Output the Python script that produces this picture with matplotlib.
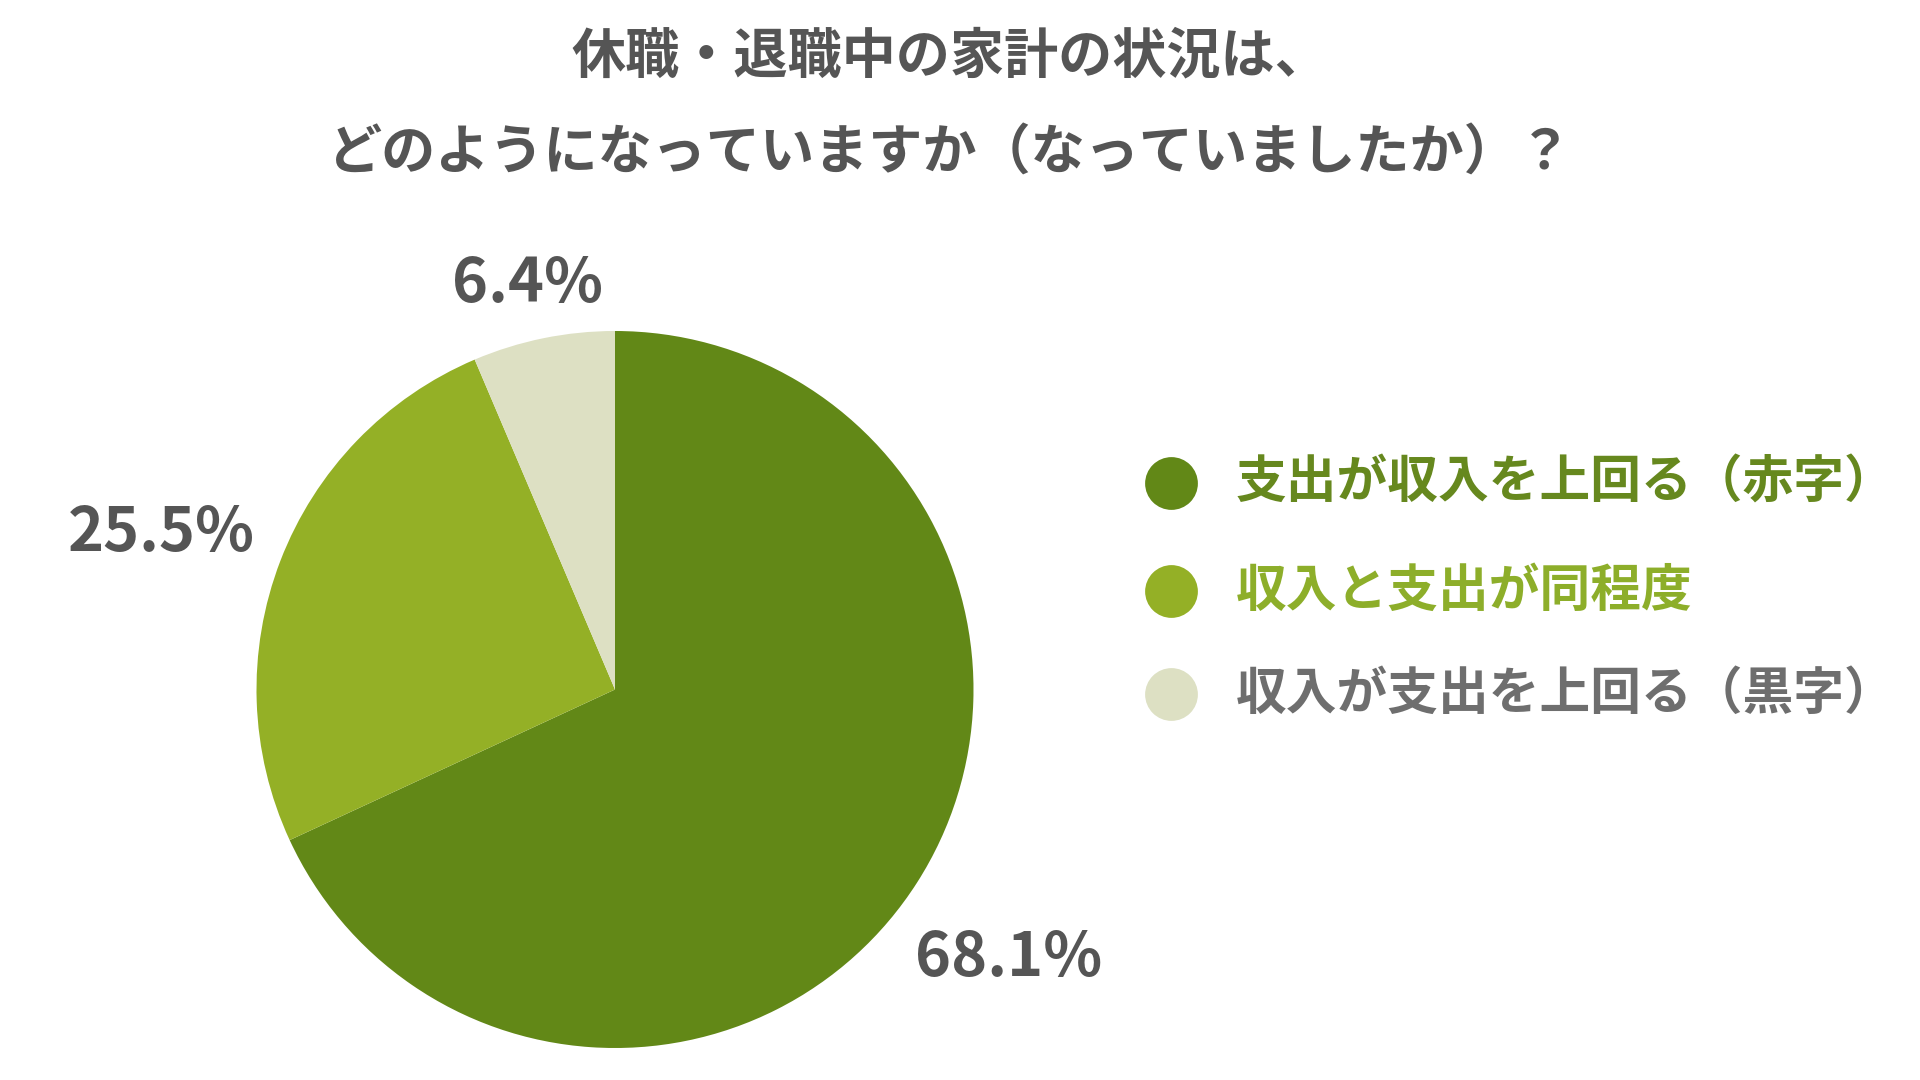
import numpy as np
import matplotlib
matplotlib.use("Agg")
import matplotlib.pyplot as plt
from matplotlib.lines import Line2D

plt.rcParams['font.family'] = ['Noto Sans CJK JP', 'DejaVu Sans']

# ---- data ----
title_lines = ["休職・退職中の家計の状況は、", "どのようになっていますか（なっていましたか）？"]
categories = ["支出が収入を上回る（赤字）", "収入と支出が同程度", "収入が支出を上回る（黒字）"]
values = [68.1, 25.5, 6.4]
value_labels = ["68.1%", "25.5%", "6.4%"]

# ---- styles ----
colors = ["#628817", "#94B026", "#DDE0C3"]
legend_text_colors = ["#66881E", "#8DAE2A", "#6E6E6E"]
label_dist = [1.325, 1.345, 1.16]
label_offset_px = [(-7, -13), (-4, -17), (-4, -2)]
W, H = 1920, 1080

fig = plt.figure(figsize=(W / 100, H / 100), dpi=100)
fig.patch.set_facecolor("white")

# title
fig.text(950 / W, 1 - 57 / H, title_lines[0], ha="center", va="center",
         fontsize=39, fontweight="bold", color="#555555")
fig.text(950 / W, 1 - 154 / H, title_lines[1], ha="center", va="center",
         fontsize=39, fontweight="bold", color="#555555")

# pie
cx, cy, r = 615, 689.5, 358.5
ax = fig.add_axes([(cx - r) / W, 1 - (cy + r) / H, 2 * r / W, 2 * r / H])
wedges, _ = ax.pie(values, colors=colors, startangle=90, counterclock=False,
                   radius=1, wedgeprops=dict(linewidth=0))
ax.set_xlim(-1, 1)
ax.set_ylim(-1, 1)
ax.set_aspect("equal")
ax.axis("off")

for w, lab, d, off in zip(wedges, value_labels, label_dist, label_offset_px):
    ang = np.deg2rad((w.theta1 + w.theta2) / 2)
    ax.annotate(lab, (d * np.cos(ang), d * np.sin(ang)),
                xytext=(off[0] * 0.72, off[1] * 0.72), textcoords="offset points",
                ha="center", va="center", fontsize=44, fontweight="bold",
                color="#555555", annotation_clip=False)

# legend (manual)
leg_y = [483, 591, 694]
for cat, col, tcol, y in zip(categories, colors, legend_text_colors, leg_y):
    fig.add_artist(Line2D([1171 / W], [1 - y / H], marker="o", markersize=38,
                          markerfacecolor=col, markeredgewidth=0,
                          linestyle="none", transform=fig.transFigure))
    fig.text(1236 / W, 1 - y / H, cat, ha="left", va="center",
             fontsize=36.5, fontweight="bold", color=tcol)

fig.savefig("out.png", dpi=100, facecolor="white")
